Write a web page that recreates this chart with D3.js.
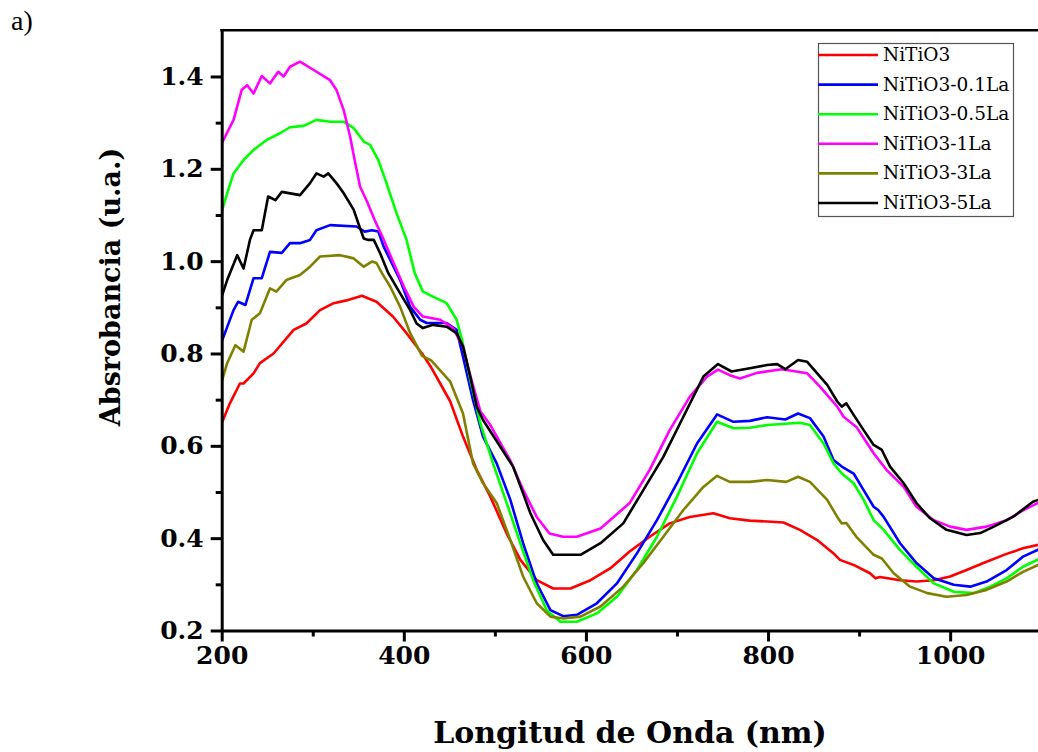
<!DOCTYPE html>
<html><head><meta charset="utf-8">
<script src="https://cdn.jsdelivr.net/npm/d3@7"></script>
<style>
html,body{margin:0;padding:0;background:#fff;}
svg{display:block;}
</style></head>
<body>
<svg id="chart" width="1038" height="752"></svg>
<script>
// ---------------- DATA ----------------
const seriesNames = ["NiTiO3","NiTiO3-0.1La","NiTiO3-0.5La","NiTiO3-1La","NiTiO3-3La","NiTiO3-5La"];
const seriesColors = ["#ff0000","#0000ff","#00ff00","#ff00ff","#808000","#000000"];
const xTickValues = [200,400,600,800,1000];
const xMinorTicks = [300,500,700,900,1100];
const yTickValues = [0.2,0.4,0.6,0.8,1.0,1.2,1.4];
const yMinorTicks = [0.3,0.5,0.7,0.9,1.1,1.3];

const wlRed  = [200,209,220,224,235,242,257,279,293,308,323,337,354,370,388,403,420,430,440,451,465,480,495,513,528,546,564,583,605,627,648,670,692,714,740,758,780,799,817,835,854,872,879,894,912,918,923,945,963,982,1000,1018,1040,1062,1080,1100];
const absRed = [0.649,0.692,0.735,0.735,0.757,0.779,0.800,0.851,0.865,0.894,0.909,0.915,0.925,0.912,0.880,0.844,0.800,0.770,0.735,0.696,0.620,0.548,0.490,0.410,0.353,0.309,0.291,0.291,0.309,0.335,0.371,0.403,0.432,0.446,0.454,0.443,0.438,0.436,0.434,0.418,0.396,0.367,0.353,0.342,0.324,0.313,0.316,0.309,0.306,0.309,0.317,0.331,0.349,0.366,0.378,0.387];

const wlBlue  = [200,213,218,226,235,244,253,266,275,286,297,304,319,348,357,365,372,378,387,396,407,418,425,447,458,465,476,487,502,517,531,546,561,575,590,612,634,656,678,700,722,744,762,780,799,819,833,846,861,872,881,894,905,916,921,927,945,963,982,1004,1022,1040,1062,1080,1100];
const absBlue = [0.826,0.894,0.912,0.905,0.963,0.963,1.020,1.018,1.039,1.039,1.046,1.067,1.078,1.075,1.064,1.067,1.064,1.031,0.995,0.959,0.901,0.873,0.866,0.866,0.851,0.793,0.699,0.620,0.562,0.483,0.389,0.302,0.244,0.231,0.234,0.259,0.302,0.367,0.439,0.519,0.605,0.668,0.652,0.654,0.662,0.657,0.670,0.660,0.620,0.569,0.555,0.540,0.504,0.468,0.461,0.446,0.389,0.346,0.313,0.299,0.295,0.306,0.331,0.360,0.378];

const wlGreen  = [200,206,213,224,235,249,264,275,290,304,319,334,345,356,363,372,381,392,403,412,421,432,447,458,464,473,484,498,513,528,542,557,572,590,612,634,656,678,700,722,744,762,780,799,835,846,861,872,881,894,905,916,927,945,963,982,1004,1026,1044,1062,1080,1100];
const absGreen = [1.107,1.147,1.190,1.219,1.241,1.262,1.277,1.290,1.293,1.306,1.302,1.302,1.288,1.259,1.252,1.219,1.169,1.104,1.046,0.974,0.934,0.923,0.909,0.873,0.829,0.743,0.649,0.562,0.476,0.389,0.309,0.244,0.219,0.219,0.237,0.273,0.331,0.403,0.490,0.584,0.652,0.638,0.639,0.645,0.650,0.645,0.605,0.562,0.540,0.519,0.483,0.439,0.418,0.374,0.338,0.302,0.284,0.281,0.295,0.313,0.338,0.357];

const wlMagenta  = [200,213,222,228,235,244,253,262,268,275,286,301,319,326,334,341,346,352,359,368,378,389,400,411,421,440,454,465,473,484,495,517,531,546,560,575,590,616,648,670,692,714,733,745,758,769,788,815,824,843,857,876,883,897,916,930,949,963,982,1000,1018,1040,1062,1080,1100];
const absMagenta = [1.255,1.306,1.371,1.381,1.363,1.401,1.385,1.410,1.400,1.421,1.432,1.414,1.392,1.371,1.327,1.270,1.219,1.161,1.132,1.089,1.046,0.995,0.945,0.901,0.880,0.873,0.855,0.815,0.752,0.675,0.645,0.568,0.505,0.446,0.410,0.403,0.403,0.421,0.476,0.548,0.634,0.706,0.750,0.765,0.753,0.746,0.758,0.766,0.763,0.757,0.728,0.685,0.663,0.641,0.584,0.548,0.511,0.468,0.439,0.425,0.418,0.425,0.439,0.460,0.480];

const wlOlive  = [200,206,215,224,233,242,253,260,271,286,297,308,330,345,356,365,370,376,385,396,407,420,430,451,465,476,487,502,517,531,546,561,575,594,616,641,663,685,707,729,744,758,780,799,820,833,846,865,876,881,886,897,916,925,938,956,975,996,1018,1040,1062,1080,1100];
const absOlive = [0.739,0.779,0.818,0.804,0.873,0.887,0.941,0.934,0.959,0.970,0.988,1.010,1.013,1.006,0.988,0.999,0.996,0.974,0.945,0.901,0.844,0.795,0.785,0.739,0.670,0.562,0.519,0.476,0.396,0.317,0.259,0.230,0.226,0.230,0.252,0.295,0.346,0.403,0.461,0.511,0.535,0.522,0.522,0.526,0.522,0.533,0.522,0.483,0.446,0.432,0.433,0.403,0.364,0.356,0.324,0.295,0.281,0.273,0.277,0.288,0.306,0.327,0.345];

const wlBlack  = [200,206,217,224,231,235,244,251,259,266,286,297,304,312,317,326,334,345,350,356,361,367,374,383,396,407,414,421,432,447,458,465,473,480,487,506,520,531,539,553,564,580,594,616,641,663,685,707,729,745,760,780,799,810,819,833,843,854,865,876,881,886,894,905,916,925,934,949,963,978,996,1018,1033,1048,1069,1091,1100];
const absBlack = [0.923,0.959,1.013,0.984,1.046,1.067,1.067,1.140,1.132,1.150,1.143,1.169,1.190,1.183,1.190,1.169,1.147,1.111,1.082,1.049,1.046,1.046,1.017,0.974,0.930,0.894,0.865,0.855,0.862,0.858,0.844,0.815,0.750,0.685,0.656,0.598,0.555,0.497,0.454,0.396,0.364,0.364,0.364,0.389,0.432,0.504,0.576,0.663,0.750,0.777,0.761,0.768,0.775,0.777,0.766,0.786,0.782,0.757,0.732,0.696,0.685,0.692,0.667,0.634,0.602,0.591,0.555,0.519,0.476,0.443,0.418,0.407,0.411,0.425,0.446,0.479,0.485];

const seriesWl  = [wlRed, wlBlue, wlGreen, wlMagenta, wlOlive, wlBlack];
const seriesAbs = [absRed, absBlue, absGreen, absMagenta, absOlive, absBlack];

// ---------------- CHART ----------------
const svg = d3.select("#chart");
const x = d3.scaleLinear().domain([200,1100]).range([221.7, 1041.2]);
const y = d3.scaleLinear().domain([0.2,1.5]).range([630.5, 30.3]);

const boldFont = "'DejaVu Serif', serif";

svg.append("defs").append("clipPath").attr("id","plotclip")
  .append("rect").attr("x",x(200)).attr("y",y(1.5)).attr("width",x(1100)-x(200)).attr("height",y(0.2)-y(1.5));

// lines
const line = d3.line().x(d=>x(d[0])).y(d=>y(d[1]));
const gLines = svg.append("g").attr("clip-path","url(#plotclip)");
seriesNames.forEach((name,i)=>{
  const pts = seriesWl[i].map((w,j)=>[w, seriesAbs[i][j]]);
  gLines.append("path").datum(pts)
    .attr("d", line).attr("fill","none")
    .attr("stroke", seriesColors[i]).attr("stroke-width",2.6)
    .attr("stroke-linejoin","round");
});

// frame top
svg.append("line").attr("x1",x(200)-1.5).attr("x2",x(1100)).attr("y1",y(1.5)).attr("y2",y(1.5))
  .attr("stroke","#000").attr("stroke-width",2.5);

// x axis
const xAxis = svg.append("g").attr("transform",`translate(0,${y(0.2)})`)
  .call(d3.axisBottom(x).tickValues(xTickValues).tickSize(11).tickSizeOuter(0).tickPadding(5).tickFormat(d3.format("d")));
xAxis.select(".domain").attr("stroke-width",3);
xAxis.selectAll(".tick line").attr("stroke-width",3);
xAxis.selectAll("text").attr("font-family",boldFont).attr("font-weight","bold").attr("font-size",25).attr("fill","#000");
const xMinor = svg.append("g").attr("transform",`translate(0,${y(0.2)})`)
  .call(d3.axisBottom(x).tickValues(xMinorTicks).tickSize(6).tickSizeOuter(0).tickFormat(""));
xMinor.select(".domain").remove();
xMinor.selectAll(".tick line").attr("stroke-width",3);

// y axis
const yAxis = svg.append("g").attr("transform",`translate(${x(200)},0)`)
  .call(d3.axisLeft(y).tickValues(yTickValues).tickSize(11).tickSizeOuter(0).tickPadding(7).tickFormat(d3.format(".1f")));
yAxis.select(".domain").attr("stroke-width",3);
yAxis.selectAll(".tick line").attr("stroke-width",3);
yAxis.selectAll("text").attr("font-family",boldFont).attr("font-weight","bold").attr("font-size",25).attr("fill","#000");
const yMinor = svg.append("g").attr("transform",`translate(${x(200)},0)`)
  .call(d3.axisLeft(y).tickValues(yMinorTicks).tickSize(6).tickSizeOuter(0).tickFormat(""));
yMinor.select(".domain").remove();
yMinor.selectAll(".tick line").attr("stroke-width",3);

// axis titles
svg.append("text").attr("x",630).attr("y",743).attr("text-anchor","middle")
  .attr("font-family",boldFont).attr("font-weight","bold").attr("font-size",30).attr("fill","#000")
  .text("Longitud de Onda (nm)");
svg.append("text").attr("transform","translate(120,287) rotate(-90)").attr("text-anchor","middle")
  .attr("font-family",boldFont).attr("font-weight","bold").attr("font-size",27).attr("fill","#000")
  .text("Absrobancia (u.a.)");

// panel label
svg.append("text").attr("x",11).attr("y",30).attr("font-family","'Liberation Serif', serif")
  .attr("font-size",28).attr("fill","#000").text("a)");

// legend
const lg = svg.append("g");
lg.append("rect").attr("x",818.5).attr("y",43.5).attr("width",195).attr("height",173)
  .attr("fill","#fff").attr("stroke","#555").attr("stroke-width",1.2);
seriesNames.forEach((name,i)=>{
  const ly = 55 + i*29.6;
  lg.append("line").attr("x1",818).attr("x2",878).attr("y1",ly).attr("y2",ly)
    .attr("stroke",seriesColors[i]).attr("stroke-width",2.6);
  lg.append("text").attr("x",883).attr("y",ly+6).attr("font-family","'DejaVu Serif', serif")
    .attr("font-size",18.5).attr("fill","#000").text(name);
});
</script>
</body></html>
